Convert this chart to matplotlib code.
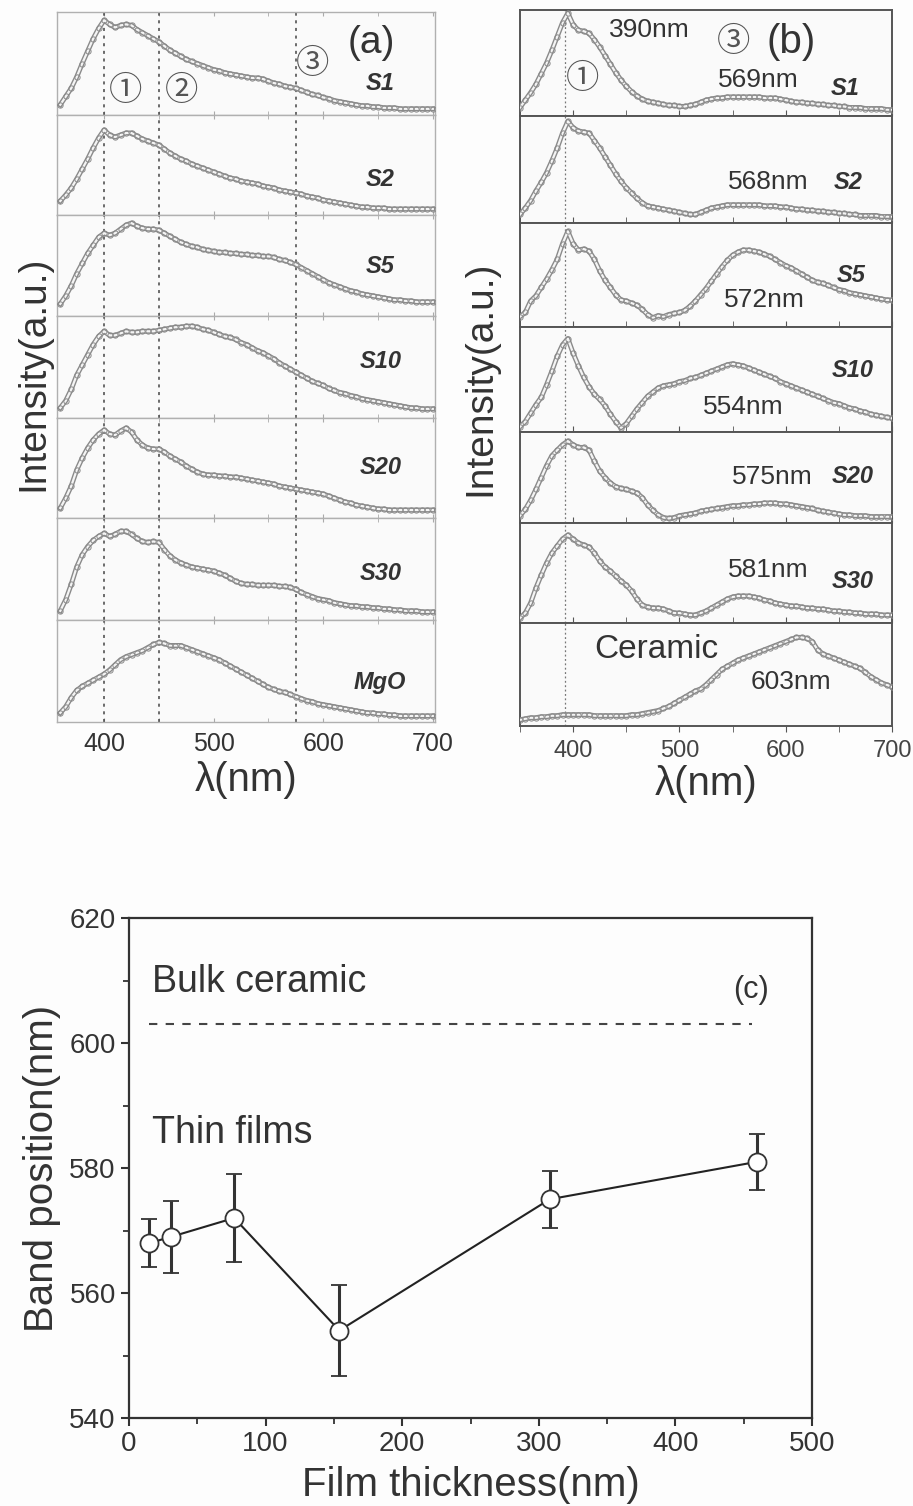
import matplotlib
matplotlib.use("Agg")
import matplotlib.pyplot as plt
from matplotlib.ticker import MultipleLocator

plt.rcParams['font.family'] = ['Liberation Sans', 'DejaVu Sans']

W, H = 913, 1506
TXT = '#333333'

# ---------------- data ----------------
wl_a = list(range(360, 701, 5))
wl_b = list(range(350, 701, 5))

names_a = ['S1', 'S2', 'S5', 'S10', 'S20', 'S30', 'MgO']
S1_a = [0.10,0.18,0.26,0.37,0.50,0.62,0.74,0.84,0.92,0.88,
        0.85,0.87,0.88,0.87,0.83,0.80,0.77,0.74,0.71,0.67,
        0.63,0.60,0.57,0.54,0.52,0.50,0.48,0.46,0.44,0.43,
        0.41,0.40,0.39,0.38,0.37,0.36,0.36,0.35,0.33,0.31,
        0.30,0.28,0.27,0.26,0.24,0.22,0.20,0.19,0.17,0.16,
        0.14,0.13,0.12,0.11,0.10,0.09,0.09,0.08,0.08,0.07,
        0.07,0.07,0.06,0.06,0.06,0.06,0.06,0.06,0.06]
S2_a = [0.14,0.20,0.27,0.36,0.46,0.56,0.67,0.77,0.85,0.80,
        0.78,0.80,0.82,0.82,0.79,0.76,0.74,0.72,0.70,0.66,
        0.62,0.59,0.56,0.54,0.51,0.49,0.47,0.45,0.43,0.41,
        0.39,0.37,0.36,0.34,0.33,0.32,0.31,0.29,0.28,0.27,
        0.25,0.24,0.23,0.22,0.21,0.19,0.18,0.17,0.15,0.14,
        0.13,0.12,0.11,0.10,0.09,0.08,0.08,0.07,0.07,0.07,
        0.06,0.06,0.06,0.06,0.06,0.06,0.06,0.06,0.06]
S5_a = [0.12,0.20,0.30,0.42,0.52,0.62,0.70,0.78,0.82,0.80,
        0.82,0.86,0.90,0.92,0.89,0.87,0.86,0.86,0.85,0.82,
        0.79,0.76,0.73,0.71,0.69,0.68,0.66,0.65,0.64,0.63,
        0.63,0.62,0.62,0.61,0.61,0.60,0.60,0.59,0.59,0.58,
        0.56,0.55,0.53,0.51,0.48,0.45,0.42,0.39,0.36,0.33,
        0.31,0.29,0.27,0.25,0.24,0.22,0.21,0.20,0.19,0.18,
        0.17,0.16,0.16,0.15,0.15,0.14,0.14,0.14,0.14]
S10_a = [0.10,0.17,0.28,0.42,0.52,0.62,0.72,0.80,0.85,0.81,
         0.81,0.83,0.85,0.84,0.84,0.85,0.85,0.85,0.86,0.87,
         0.88,0.89,0.89,0.90,0.90,0.89,0.87,0.86,0.84,0.82,
         0.80,0.79,0.77,0.74,0.72,0.69,0.66,0.64,0.61,0.58,
         0.54,0.51,0.48,0.45,0.42,0.39,0.36,0.34,0.32,0.29,
         0.27,0.25,0.24,0.22,0.21,0.19,0.18,0.17,0.16,0.15,
         0.14,0.13,0.12,0.11,0.10,0.10,0.09,0.09,0.09]
S20_a = [0.10,0.20,0.32,0.48,0.60,0.70,0.78,0.84,0.88,0.84,
         0.83,0.87,0.90,0.86,0.78,0.73,0.70,0.69,0.69,0.66,
         0.62,0.59,0.56,0.52,0.49,0.46,0.44,0.43,0.43,0.42,
         0.42,0.41,0.41,0.40,0.39,0.38,0.37,0.36,0.35,0.34,
         0.32,0.31,0.30,0.29,0.28,0.27,0.26,0.25,0.24,0.22,
         0.20,0.18,0.16,0.15,0.13,0.12,0.11,0.10,0.09,0.09,
         0.08,0.08,0.08,0.08,0.08,0.08,0.08,0.08,0.08]
S30_a = [0.09,0.20,0.35,0.52,0.64,0.72,0.78,0.82,0.85,0.82,
         0.84,0.87,0.87,0.84,0.80,0.77,0.76,0.77,0.76,0.69,
         0.63,0.59,0.56,0.54,0.52,0.51,0.50,0.49,0.48,0.46,
         0.44,0.41,0.38,0.36,0.35,0.35,0.34,0.34,0.34,0.34,
         0.33,0.33,0.32,0.30,0.27,0.25,0.23,0.21,0.20,0.19,
         0.17,0.16,0.15,0.14,0.14,0.13,0.13,0.12,0.12,0.11,
         0.11,0.10,0.10,0.09,0.09,0.09,0.08,0.08,0.08]
MgO_a = [0.09,0.15,0.24,0.31,0.35,0.38,0.41,0.44,0.47,0.51,
         0.56,0.61,0.64,0.66,0.68,0.70,0.73,0.76,0.78,0.77,
         0.75,0.75,0.75,0.73,0.71,0.69,0.67,0.65,0.63,0.61,
         0.58,0.55,0.52,0.49,0.46,0.43,0.40,0.37,0.34,0.32,
         0.30,0.29,0.27,0.25,0.23,0.21,0.20,0.18,0.17,0.16,
         0.15,0.14,0.13,0.12,0.11,0.10,0.09,0.09,0.08,0.08,
         0.07,0.07,0.06,0.06,0.06,0.06,0.06,0.06,0.06]
curves_a = [S1_a, S2_a, S5_a, S10_a, S20_a, S30_a, MgO_a]
label_y_a = [0.31, 0.35, 0.49, 0.55, 0.50, 0.46, 0.39]

names_b = ['S1', 'S2', 'S5', 'S10', 'S20', 'S30', None]
S1_b = [0.08,0.15,0.22,0.30,0.40,0.50,0.62,0.75,0.88,0.97,
        0.86,0.81,0.80,0.78,0.72,0.65,0.57,0.49,0.41,0.34,
        0.28,0.23,0.19,0.16,0.14,0.13,0.12,0.11,0.10,0.10,
        0.09,0.09,0.10,0.11,0.13,0.15,0.16,0.17,0.17,0.18,
        0.18,0.18,0.18,0.18,0.18,0.18,0.17,0.17,0.17,0.16,
        0.15,0.14,0.13,0.13,0.12,0.12,0.11,0.11,0.10,0.10,
        0.09,0.09,0.08,0.08,0.08,0.07,0.07,0.07,0.07,0.06,
        0.06]
S2_b = [0.08,0.14,0.21,0.30,0.38,0.47,0.58,0.70,0.84,0.95,
        0.89,0.86,0.85,0.84,0.77,0.70,0.62,0.54,0.46,0.39,
        0.33,0.28,0.23,0.19,0.16,0.15,0.14,0.13,0.12,0.11,
        0.10,0.09,0.08,0.08,0.10,0.12,0.14,0.15,0.16,0.17,
        0.17,0.17,0.17,0.17,0.17,0.17,0.16,0.16,0.16,0.15,
        0.15,0.14,0.13,0.13,0.12,0.12,0.11,0.11,0.10,0.10,
        0.09,0.09,0.08,0.08,0.07,0.07,0.07,0.07,0.06,0.06,
        0.06]
S5_b = [0.10,0.14,0.25,0.30,0.38,0.46,0.55,0.65,0.80,0.92,
        0.80,0.74,0.75,0.73,0.65,0.54,0.45,0.38,0.31,0.26,
        0.25,0.23,0.21,0.17,0.12,0.09,0.11,0.10,0.12,0.13,
        0.14,0.16,0.20,0.25,0.31,0.37,0.44,0.51,0.58,0.64,
        0.69,0.72,0.74,0.74,0.73,0.72,0.70,0.68,0.65,0.62,
        0.59,0.57,0.54,0.51,0.48,0.45,0.43,0.42,0.40,0.38,
        0.36,0.35,0.33,0.32,0.31,0.30,0.29,0.28,0.27,0.26,
        0.26]
S10_b = [0.05,0.10,0.18,0.26,0.33,0.45,0.58,0.72,0.83,0.89,
         0.75,0.63,0.52,0.43,0.36,0.31,0.25,0.17,0.10,0.04,
         0.08,0.15,0.22,0.28,0.34,0.38,0.42,0.44,0.45,0.46,
         0.48,0.49,0.51,0.52,0.54,0.56,0.58,0.60,0.62,0.64,
         0.65,0.64,0.63,0.61,0.59,0.57,0.55,0.53,0.51,0.48,
         0.46,0.44,0.42,0.40,0.38,0.36,0.34,0.32,0.30,0.28,
         0.27,0.25,0.23,0.22,0.20,0.19,0.17,0.16,0.15,0.14,
         0.13]
S20_b = [0.08,0.15,0.25,0.37,0.50,0.63,0.74,0.80,0.86,0.90,
         0.86,0.83,0.83,0.80,0.68,0.57,0.50,0.44,0.40,0.38,
         0.37,0.35,0.33,0.28,0.20,0.14,0.09,0.06,0.05,0.06,
         0.08,0.09,0.10,0.11,0.13,0.14,0.15,0.16,0.17,0.18,
         0.19,0.19,0.20,0.20,0.21,0.21,0.22,0.22,0.22,0.21,
         0.21,0.20,0.19,0.18,0.17,0.16,0.14,0.13,0.12,0.11,
         0.10,0.09,0.09,0.08,0.08,0.08,0.07,0.07,0.07,0.07,
         0.07]
S30_b = [0.05,0.10,0.20,0.35,0.48,0.60,0.70,0.77,0.84,0.88,
         0.84,0.80,0.78,0.76,0.70,0.62,0.56,0.52,0.47,0.42,
         0.38,0.32,0.24,0.18,0.16,0.15,0.15,0.14,0.12,0.10,
         0.10,0.09,0.08,0.08,0.10,0.12,0.15,0.18,0.21,0.24,
         0.26,0.27,0.27,0.27,0.26,0.25,0.23,0.22,0.20,0.19,
         0.18,0.17,0.17,0.16,0.15,0.15,0.14,0.14,0.13,0.12,
         0.12,0.11,0.11,0.10,0.10,0.09,0.09,0.09,0.08,0.08,
         0.08]
Ceramic_b = [0.06,0.07,0.08,0.08,0.09,0.09,0.10,0.10,0.11,0.11,
             0.11,0.11,0.11,0.11,0.10,0.10,0.10,0.10,0.10,0.10,
             0.10,0.11,0.11,0.12,0.13,0.14,0.15,0.17,0.19,0.22,
             0.25,0.28,0.31,0.34,0.36,0.40,0.45,0.50,0.55,0.58,
             0.61,0.64,0.66,0.68,0.70,0.72,0.74,0.76,0.78,0.80,
             0.82,0.84,0.86,0.86,0.85,0.82,0.74,0.70,0.68,0.66,
             0.64,0.62,0.60,0.58,0.56,0.52,0.48,0.45,0.42,0.40,
             0.38]
curves_b = [S1_b, S2_b, S5_b, S10_b, S20_b, S30_b, Ceramic_b]
band_labels_b = ['569nm', '568nm', '572nm', '554nm', '575nm', '581nm', '603nm']
band_lab_pos_b = [(574, 0.34), (584, 0.38), (580, 0.26), (560, 0.24),
                  (587, 0.51), (584, 0.53), (605, 0.43)]
name_pos_b = [(656, 0.26), (659, 0.38), (662, 0.50), (663, 0.59),
              (663, 0.51), (663, 0.42)]

# panel (c)
thickness = [15, 31, 77, 154, 308, 460]
band_pos = [568, 569, 572, 554, 575, 581]
band_err = [3.9, 5.8, 7.0, 7.2, 4.6, 4.5]
bulk_ceramic = 603

# ---------------- helpers ----------------
fig = plt.figure(figsize=(W / 100, H / 100), dpi=100)
fig.patch.set_facecolor('#fdfdfd')


def rect(l, t, r, b):
    return [l / W, 1 - b / H, (r - l) / W, (b - t) / H]


def draw_spec(ax, x, y):
    ax.plot(x, y, color='#8a8a8a', lw=3.6, solid_joinstyle='round', zorder=3)
    ax.plot(x, y, color='#f4f4f4', lw=1.6, solid_joinstyle='round', zorder=4)
    ax.plot(x, y, 'o', mfc='none', mec='#8a8a8a', ms=3.8, mew=0.7, zorder=5)


cj = ['Noto Sans CJK JP', 'DejaVu Sans']
CIRC = 24

# ---------------- panel (a) ----------------
bounds_a = [12, 115, 215, 316, 418, 518, 620, 722]
axes_a = []
for i, (name, yv) in enumerate(zip(names_a, curves_a)):
    ax = fig.add_axes(rect(57, bounds_a[i], 435, bounds_a[i + 1]))
    ax.set_facecolor('#fafafa')
    draw_spec(ax, wl_a, yv)
    ax.set_xlim(357, 702)
    ax.set_ylim(0, 1)
    for xv in (400, 450, 575):
        ax.axvline(xv, color='#444444', lw=1.1, ls=(0, (2, 3)), zorder=2)
    for s in ax.spines.values():
        s.set_color('#b0b0b0')
        s.set_linewidth(1.0)
    ax.set_yticks([])
    ax.xaxis.set_major_locator(MultipleLocator(100))
    ax.xaxis.set_minor_locator(MultipleLocator(50))
    ax.tick_params(axis='x', which='both', direction='in', top=True,
                   bottom=True, length=3, color='#aaaaaa', labelbottom=False)
    ax.text(652, label_y_a[i], name, fontsize=17, style='italic',
            fontweight='bold', color=TXT, ha='center', va='center')
    axes_a.append(ax)

axb = axes_a[-1]
axb.tick_params(axis='x', which='both', labelbottom=True, labelsize=18,
                labelcolor=TXT, pad=7)
axb.set_xlabel('λ(nm)', fontsize=29, color=TXT, labelpad=4)

a0 = axes_a[0]
a0.text(644, 0.70, '(a)', fontsize=28, color=TXT, ha='center', va='center')
a0.text(420, 0.24, '①', fontsize=CIRC, family=cj, color='#555555',
        ha='center', va='center')
a0.text(471, 0.24, '②', fontsize=CIRC, family=cj, color='#555555',
        ha='center', va='center')
a0.text(590, 0.50, '③', fontsize=CIRC, family=cj, color='#555555',
        ha='center', va='center')
fig.text(33 / W, 1 - 373 / H, 'Intensity(a.u.)', rotation=90, fontsize=28,
         color=TXT, ha='center', va='center')

# ---------------- panel (b) ----------------
bounds_b = [10, 116, 223, 327, 432, 523, 623, 726]
axes_b = []
for i, yv in enumerate(curves_b):
    ax = fig.add_axes(rect(520, bounds_b[i], 892, bounds_b[i + 1]))
    ax.set_facecolor('#fafafa')
    draw_spec(ax, wl_b, yv)
    ax.set_xlim(350, 700)
    ax.set_ylim(0, 1)
    ax.axvline(392, color='#777777', lw=0.9, ls=(0, (1.5, 2)), zorder=2)
    for s in ax.spines.values():
        s.set_color('#555555')
        s.set_linewidth(1.4)
    ax.set_yticks([])
    ax.xaxis.set_major_locator(MultipleLocator(100))
    ax.xaxis.set_minor_locator(MultipleLocator(50))
    ax.tick_params(axis='x', which='both', direction='in', length=4,
                   color='#555555', labelbottom=False)
    bx, by = band_lab_pos_b[i]
    ax.text(bx, by, band_labels_b[i], fontsize=19, color=TXT,
            ha='center', va='center')
    if names_b[i]:
        nx, ny = name_pos_b[i]
        ax.text(nx, ny, names_b[i], fontsize=17, style='italic',
                fontweight='bold', color=TXT, ha='center', va='center')
    axes_b.append(ax)

bb = axes_b[-1]
bb.tick_params(axis='x', which='both', direction='out', labelbottom=True,
               labelsize=17, labelcolor='#444444', length=4, pad=6)
bb.set_xlabel('λ(nm)', fontsize=29, color=TXT, labelpad=2)
bb.text(478, 0.74, 'Ceramic', fontsize=24, color=TXT, ha='center', va='center')
b0 = axes_b[0]
b0.text(472, 0.81, '390nm', fontsize=19, color=TXT, ha='center', va='center')
b0.text(605, 0.70, '(b)', fontsize=29, color=TXT, ha='center', va='center')
b0.text(551, 0.70, '③', fontsize=CIRC, family=cj, color='#555555',
        ha='center', va='center')
b0.text(409, 0.35, '①', fontsize=CIRC, family=cj, color='#555555',
        ha='center', va='center')
fig.text(480 / W, 1 - 378 / H, 'Intensity(a.u.)', rotation=90, fontsize=28,
         color=TXT, ha='center', va='center')

# ---------------- panel (c) ----------------
axc = fig.add_axes(rect(129, 918, 812, 1418))
axc.set_facecolor('#fdfdfd')
axc.errorbar(thickness, band_pos, yerr=band_err, fmt='-o', color='#222222',
             lw=1.5, ms=13, mfc='white', mec='#333333', mew=1.3,
             ecolor='#333333', elinewidth=2.2, capsize=5.5, capthick=2.2,
             zorder=3)
axc.plot([15, 456], [bulk_ceramic, bulk_ceramic], color='#444444', lw=1.5,
         ls=(0, (4, 4)))
axc.set_xlim(0, 500)
axc.set_ylim(540, 620)
axc.xaxis.set_major_locator(MultipleLocator(100))
axc.xaxis.set_minor_locator(MultipleLocator(50))
axc.yaxis.set_major_locator(MultipleLocator(20))
axc.yaxis.set_minor_locator(MultipleLocator(10))
axc.tick_params(which='major', direction='out', length=6, width=1.5,
                color='#333333', labelsize=20, labelcolor=TXT)
axc.tick_params(which='minor', direction='out', length=4, width=1.3,
                color='#333333')
for s in axc.spines.values():
    s.set_color('#333333')
    s.set_linewidth(1.6)
axc.set_xlabel('Film thickness(nm)', fontsize=29, color=TXT, labelpad=6)
axc.set_ylabel('Band position(nm)', fontsize=29, color=TXT, labelpad=6)
axc.text(17, 609.8, 'Bulk ceramic', fontsize=27, color=TXT, ha='left',
         va='center')
axc.text(17, 585.6, 'Thin films', fontsize=27, color=TXT, ha='left',
         va='center')
axc.text(455, 608.5, '(c)', fontsize=22, color=TXT, ha='center',
         va='center')

fig.savefig('out.png', dpi=100, facecolor=fig.get_facecolor())
